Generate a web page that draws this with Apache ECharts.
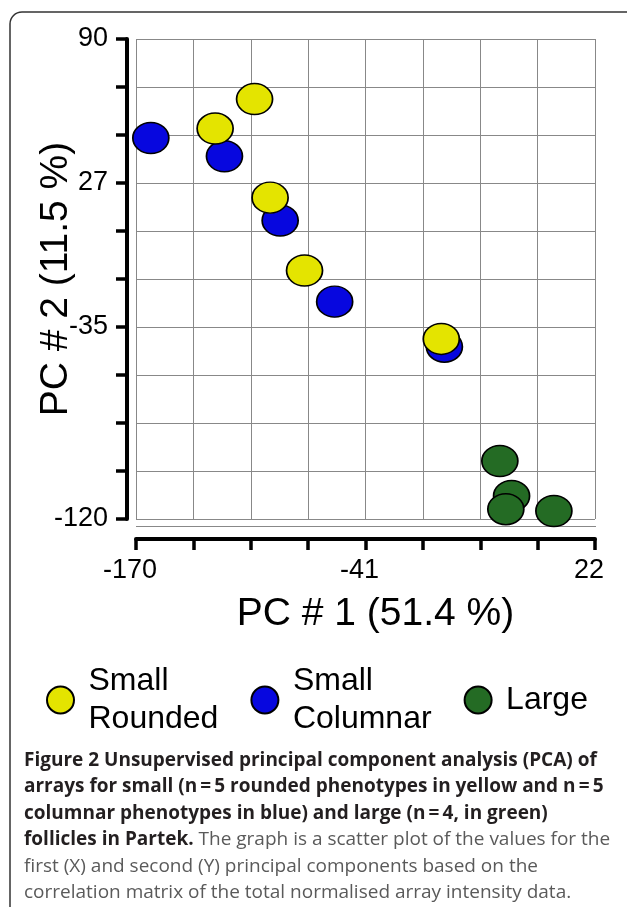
<!DOCTYPE html>
<html>
<head>
<meta charset="utf-8">
<script src="https://cdn.jsdelivr.net/npm/echarts@6/dist/echarts.min.js"></script>
<style>
html,body{margin:0;padding:0;background:#fff;}
#chart{width:627px;height:907px;}
</style>
</head>
<body>
<div id="chart"></div>
<script>
// ---- data ----
var seriesNames = ['Small\nRounded', 'Small\nColumnar', 'Large'];
var roundedPts = [[-120.4, 63.7], [-136.9, 50.8], [-113.9, 20.6], [-99.5, -11.3], [-42.3, -41.2]];
var columnarPts = [[-163.8, 46.7], [-133.0, 38.7], [-109.7, 10.6], [-86.9, -24.9], [-41.0, -44.6]];
var largePts = [[-17.8, -94.6], [-12.9, -109.9], [-15.3, -115.7], [4.8, -116.5]];

var xMin = -170, xMax = 22;
var yMin = -120, yMax = 90;
var xTickValues = [-170, -146, -122, -98, -74, -50, -26, -2, 22];
var xLabelValues = [-170, -74, 22];
var xLabelTexts = ['-170', '-41', '22'];
var yTickValues = [-120, -99, -78, -57, -36, -15, 6, 27, 48, 69, 90];
var yLabelValues = [90, 27, -36, -120];
var yLabelTexts = ['90', '27', '-35', '-120'];

var xTitle = 'PC # 1 (51.4 %)';
var yTitle = 'PC # 2 (11.5 %)';

var captionBold1 = 'Figure 2 Unsupervised principal component analysis (PCA) of';
var captionBold2 = 'arrays for small (n\u2009=\u20095 rounded phenotypes in yellow and n\u2009=\u20095';
var captionBold3 = 'columnar phenotypes in blue) and large (n\u2009=\u20094, in green)';
var captionBold4 = 'follicles in Partek.';
var captionReg4 = ' The graph is a scatter plot of the values for the';
var captionReg5 = 'first (X) and second (Y) principal components based on the';
var captionReg6 = 'correlation matrix of the total normalised array intensity data.';

// ---- styles ----
var colors = ['#e4e400', '#0707df', '#246b24'];
var ellipse = 'path://M0,50A50,50,0,1,1,100,50A50,50,0,1,1,0,50Z';
var font = 'Liberation Sans, Arial, Helvetica, sans-serif';

function labelFmt(values, texts) {
  return function (v) {
    for (var i = 0; i < values.length; i++) {
      if (Math.abs(values[i] - v) < 1e-6) return texts[i];
    }
    return '';
  };
}

function mkSeries(name, data, color, z) {
  return {
    name: name,
    type: 'scatter',
    data: data,
    symbol: ellipse,
    symbolSize: [36, 31],
    z: z,
    itemStyle: { color: color, borderColor: '#000', borderWidth: 1.6, opacity: 1 },
    emphasis: { disabled: true }
  };
}

var chart = echarts.init(document.getElementById('chart'), null, { renderer: 'canvas' });
chart.setOption({
  backgroundColor: '#fff',
  animation: false,
  grid: { left: 136, right: 32, top: 39, bottom: 388, containLabel: false },
  xAxis: {
    type: 'value', min: xMin, max: xMax, offset: 20,
    name: xTitle, nameLocation: 'middle', nameGap: 56, nameMoveOverlap: false,
    nameTextStyle: { fontFamily: font, fontSize: 39, color: '#000', padding: [0, 0, 0, 20] },
    axisLine: { show: true, onZero: false, lineStyle: { color: '#000', width: 4 } },
    axisTick: { show: true, length: 11, customValues: xTickValues, lineStyle: { color: '#000', width: 3.5 } },
    axisLabel: { show: true, margin: 18, customValues: xLabelValues, formatter: labelFmt(xLabelValues, xLabelTexts),
      fontFamily: font, fontSize: 27, color: '#000', padding: [0, 12, 0, 0] },
    splitLine: { show: true, lineStyle: { color: '#888', width: 1 } }
  },
  yAxis: {
    type: 'value', min: yMin, max: yMax, offset: 9,
    name: yTitle, nameLocation: 'middle', nameGap: 51, nameMoveOverlap: false,
    nameTextStyle: { fontFamily: font, fontSize: 39, color: '#000' },
    axisLine: { show: true, onZero: false, lineStyle: { color: '#000', width: 4 } },
    axisTick: { show: true, length: 11, customValues: yTickValues, lineStyle: { color: '#000', width: 3.5 } },
    axisLabel: { show: true, margin: 19, customValues: yLabelValues, formatter: labelFmt(yLabelValues, yLabelTexts),
      fontFamily: font, fontSize: 27, color: '#000' },
    splitLine: { show: true, lineStyle: { color: '#888', width: 1 } }
  },
  legend: {
    data: seriesNames,
    orient: 'horizontal',
    left: 46, top: 662, padding: 0,
    icon: ellipse,
    itemWidth: 28, itemHeight: 27, itemGap: 32,
    selectedMode: false,
    textStyle: { fontFamily: font, fontSize: 32, color: '#000', lineHeight: 38, padding: [0, 0, 0, 9] }
  },
  series: [
    mkSeries(seriesNames[0], roundedPts, colors[0], 3),
    mkSeries(seriesNames[1], columnarPts, colors[1], 2),
    mkSeries(seriesNames[2], largePts, colors[2], 2)
  ],
  graphic: [
    { type: 'rect', silent: true, z: -10,
      shape: { x: 10, y: 12, width: 650, height: 930, r: 12 },
      style: { fill: 'none', stroke: '#333', lineWidth: 1.5 } },
    { type: 'line', silent: true,
      shape: { x1: 136, y1: 526.5, x2: 596, y2: 526.5 },
      style: { stroke: '#888', lineWidth: 1 } },
    { type: 'text', silent: true, left: 24, top: 751,
      style: {
        text: '{b|' + captionBold1 + '}\n{b|' + captionBold2 + '}\n{b|' + captionBold3 + '}\n{b|' + captionBold4 + '}{r|' + captionReg4 + '}\n{r|' + captionReg5 + '}\n{r|' + captionReg6 + '}',
        rich: {
          b: { fontFamily: 'Open Sans', fontWeight: 'bold', fontSize: 19, lineHeight: 26.4, fill: '#231f20' },
          r: { fontFamily: 'Open Sans', fontWeight: 'normal', fontSize: 19, lineHeight: 26.4, fill: '#5a5a5a' }
        }
      } }
  ]
});
</script>
</body>
</html>
